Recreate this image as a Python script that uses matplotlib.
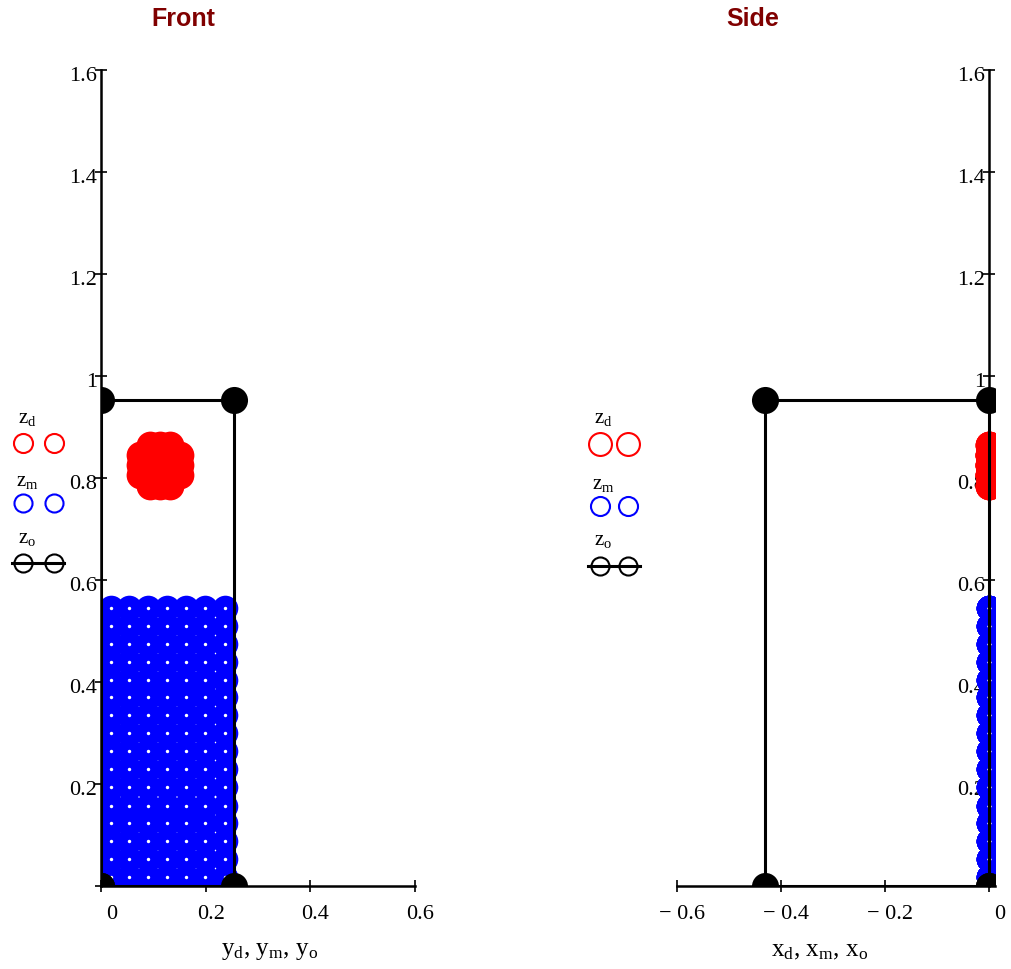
"""Front and side views of the filled container (drops, medium, outline)."""

import matplotlib

matplotlib.use("Agg")
import matplotlib.pyplot as plt  # noqa: E402
import matplotlib.transforms as mtransforms  # noqa: E402
import numpy as np  # noqa: E402
from matplotlib.lines import Line2D  # noqa: E402

W, H = 1011, 970

# outline of the container (z_o against y_o / x_o)
y_o = [0.0, 0.254, 0.254, 0.0, 0.0]
x_o = [0.0, -0.43, -0.43, 0.0, 0.0]
z_o = [0.0, 0.0, 0.9525, 0.9525, 0.0]

# drop cluster (z_d against y_d / x_d)
y_d = [0.094, 0.113, 0.132,
       0.075, 0.094, 0.113, 0.132, 0.151,
       0.075, 0.094, 0.113, 0.132, 0.151,
       0.075, 0.094, 0.113, 0.132, 0.151,
       0.094, 0.113, 0.132]
z_d = [0.865, 0.865, 0.865,
       0.845, 0.845, 0.845, 0.845, 0.845,
       0.825, 0.825, 0.825, 0.825, 0.825,
       0.805, 0.805, 0.805, 0.805, 0.805,
       0.785, 0.785, 0.785]
x_d = [0.0] * len(y_d)

# medium grid (z_m against y_m / x_m)
medium_cols = [0.0185, 0.054, 0.0904, 0.1268, 0.163, 0.1994, 0.2365]
medium_rows = [0.0182, 0.0529, 0.0876, 0.1229, 0.1575, 0.1935, 0.2294, 0.2641,
               0.3000, 0.3353, 0.3700, 0.4045, 0.4398, 0.4745, 0.5092, 0.5445]
y_m, z_m = [a.ravel() for a in np.meshgrid(medium_cols, medium_rows)]
x_m = np.zeros_like(y_m)

front_xticks = [0.0, 0.2, 0.4, 0.6]
front_xlabels = ["0", "0.2", "0.4", "0.6"]
side_xticks = [-0.6, -0.4, -0.2, 0.0]
side_xlabels = ["\u2212 0.6", "\u2212 0.4", "\u2212 0.2", "0"]
zticks = [0.0, 0.2, 0.4, 0.6, 0.8, 1.0, 1.2, 1.4, 1.6]
zlabels = ["", "0.2", "0.4", "0.6", "0.8", "1", "1.2", "1.4", "1.6"]

RED = "#FF0000"
BLUE = "#0000FF"
TITLE = "#800000"
SERIF = "Liberation Serif"

plt.rcParams["font.family"] = [SERIF, "DejaVu Serif"]
plt.rcParams["mathtext.fontset"] = "custom"
plt.rcParams["mathtext.rm"] = SERIF
plt.rcParams["mathtext.it"] = SERIF + ":italic"


def fx(px):
    return px / W


def fy(py):
    return 1 - py / H


def draw_view(ax, horiz_d, horiz_m, horiz_o):
    ax.scatter(horiz_d, z_d, s=400, color=RED, linewidths=0, zorder=2.6)
    ax.scatter(horiz_m, z_m, s=340, color=BLUE, linewidths=0, zorder=2.7)
    ax.scatter(horiz_m, z_m, s=6, color="white", linewidths=0, zorder=2.8)
    ax.plot(horiz_o, z_o, color="black", linewidth=2.2, zorder=3.5)
    ax.scatter(horiz_o, z_o, s=380, color="black", linewidths=0, zorder=3.6)
    ax.set_ylim(0, 1.6)
    ax.spines[["top", "right"]].set_visible(False)
    for side in ("left", "bottom"):
        ax.spines[side].set_linewidth(1.8)
        ax.spines[side].set_zorder(3.4)
    ax.set_facecolor("none")


def style_ticks(ax, xticks, xlabels):
    ax.set_xticks(xticks, xlabels)
    ax.set_yticks(zticks, zlabels)
    ax.tick_params(axis="both", direction="inout", length=8, width=1.2,
                   labelsize=16, colors="black")
    ax.tick_params(axis="x", pad=9)
    ax.tick_params(axis="y", pad=-1.2)
    trans = ax.figure.dpi_scale_trans
    for label in ax.get_xticklabels():
        shift = 11 if label.get_text() == "0" else 5
        label.set_transform(label.get_transform()
                            + mtransforms.ScaledTranslation(shift / 100, 0, trans))
    for label in ax.get_yticklabels():
        label.set_transform(label.get_transform()
                            + mtransforms.ScaledTranslation(0, -3 / 100, trans))


def draw_legend(fig, x_label, x_left, x_right, rows, line_x):
    for label, y_label, y_mark, color, size in rows:
        fig.text(fx(x_label), fy(y_label), label, fontsize=15, ha="center",
                 va="center")
        if color == "black":
            fig.add_artist(Line2D([fx(line_x[0]), fx(line_x[1])], [fy(y_mark), fy(y_mark)],
                                  color="black", linewidth=2.2,
                                  transform=fig.transFigure))
        fig.add_artist(Line2D([fx(x_left), fx(x_right)], [fy(y_mark), fy(y_mark)],
                              linestyle="none", marker="o", markersize=size,
                              markerfacecolor="none", markeredgecolor=color,
                              markeredgewidth=1.5, transform=fig.transFigure))


fig = plt.figure(figsize=(W / 100, H / 100), dpi=100)

ax_front = fig.add_axes([fx(101), fy(887), 314 / W, 816 / H])
draw_view(ax_front, y_d, y_m, y_o)
ax_front.set_xlim(0, 0.6)
style_ticks(ax_front, front_xticks, front_xlabels)

ax_side = fig.add_axes([fx(677), fy(887), 318 / W, 816 / H])
draw_view(ax_side, x_d, x_m, x_o)
ax_side.set_xlim(-0.6, 0.0115)
ax_side.spines["left"].set_position(("data", 0))
style_ticks(ax_side, side_xticks, side_xlabels)

fig.text(fx(183), fy(19), "Front", fontsize=18, fontweight="bold",
         color=TITLE, family="Liberation Sans", ha="center", va="center")
fig.text(fx(753), fy(19), "Side", fontsize=18, fontweight="bold",
         color=TITLE, family="Liberation Sans", ha="center", va="center")

fig.text(fx(270), fy(951), r"$\mathrm{y_d,\,y_m,\,y_o}$", fontsize=18,
         ha="center", va="center")
fig.text(fx(820), fy(951), r"$\mathrm{x_d,\,x_m,\,x_o}$", fontsize=18,
         ha="center", va="center")

draw_legend(fig, 27, 22.5, 54, [
    (r"$\mathrm{z_d}$", 418, 444, RED, 13.7),
    (r"$\mathrm{z_m}$", 482, 504, BLUE, 13.0),
    (r"$\mathrm{z_o}$", 538, 564, "black", 13.0),
], (12, 64))
draw_legend(fig, 603, 600, 628, [
    (r"$\mathrm{z_d}$", 419, 445, RED, 16.5),
    (r"$\mathrm{z_m}$", 485, 507, BLUE, 13.7),
    (r"$\mathrm{z_o}$", 540, 567, "black", 13.0),
], (588, 640))

fig.savefig("out.png", dpi=100, facecolor="white")
